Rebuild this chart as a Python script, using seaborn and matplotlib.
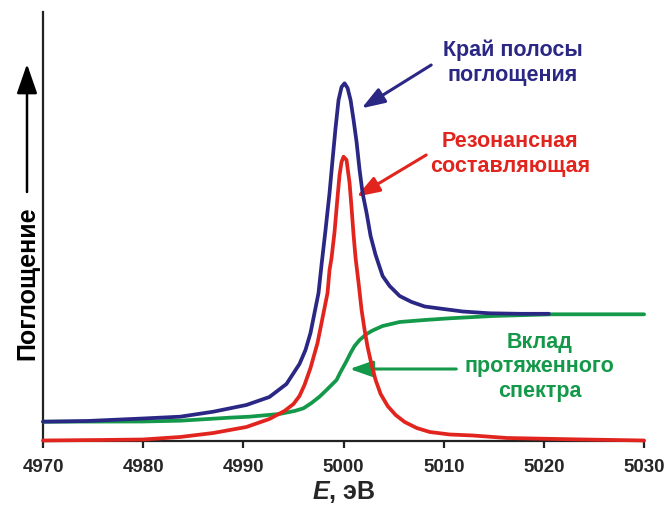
import numpy as np
import pandas as pd
import matplotlib
matplotlib.use('Agg')
import matplotlib.pyplot as plt
import seaborn as sns

#%% Данные (поглощение в условных единицах)

energy_red = [4970.0, 4975.7, 4980.0, 4983.7, 4987.0, 4990.3, 4992.6, 4994.1, 4995.0, 4995.6,
              4996.1, 4996.7, 4997.4, 4997.9, 4998.4, 4998.6, 4998.8, 4999.1, 4999.4, 4999.6,
              4999.8, 5000.0, 5000.3, 5000.4, 5000.6, 5000.8, 5001.0, 5001.2, 5001.5, 5001.8,
              5002.1, 5002.4, 5002.8, 5003.2, 5003.7, 5004.4, 5005.2, 5006.1, 5007.3, 5008.6,
              5010.6, 5012.9, 5016.3, 5022.8, 5030.0]
absorb_red = [0.5, 1, 1.5, 4, 8, 14, 22, 30, 37, 45,
              56, 73, 98, 123, 148, 171, 183, 209, 244, 266,
              279, 284.3, 281, 273, 258, 233, 206, 183, 158, 131,
              111, 94, 76, 61, 47, 35, 26, 19, 13, 9,
              6.5, 5.5, 3, 1.7, 0.5]

energy_blue = [4970.0, 4974.4, 4980.0, 4983.7, 4987.0, 4990.3, 4992.6, 4994.3, 4995.6, 4996.2,
               4996.7, 4997.1, 4997.5, 4997.8, 4998.2, 4998.6, 4998.9, 4999.2, 4999.5, 4999.8,
               5000.1, 5000.4, 5000.7, 5001.0, 5001.3, 5001.6, 5001.9, 5002.3, 5002.7, 5003.2,
               5003.9, 5004.6, 5005.6, 5006.8, 5008.1, 5009.6, 5011.9, 5014.6, 5017.6, 5020.5]
absorb_blue = [19.3, 20, 22.5, 24.3, 29.3, 36, 44, 57, 77, 91,
               108, 128, 148, 176, 211, 248, 281, 313, 341, 354,
               357.7, 353, 341, 321, 299, 271, 248, 228, 205, 186,
               165, 155, 145, 139, 134.5, 132.5, 129.5, 127.7, 127.2, 127.2]

energy_green = [4970.0, 4980.0, 4983.7, 4988.6, 4990.6, 4993.6, 4995.1, 4996.0, 4996.8, 4997.6,
                4998.3, 4999.3, 4999.7, 5000.3, 5000.7, 5001.1, 5001.6, 5002.3, 5002.9, 5003.9,
                5005.6, 5008.1, 5010.6, 5014.9, 5020.8, 5030.0]
absorb_green = [19.3, 19.5, 20.3, 23.3, 24.3, 27, 30, 32.7, 38, 44.3,
                51, 61, 69, 80, 88, 95, 101, 107, 110.5, 115,
                119, 121, 122.7, 125, 126.7, 126.7]

x_ticks = [4970, 4980, 4990, 5000, 5010, 5020, 5030]

c_blue = '#2b2784'
c_red = '#e1251e'
c_green = '#14994a'

#%% Оформление

sns.set_style('white')
plt.rcParams['font.family'] = ['Liberation Sans', 'DejaVu Sans']
plt.rcParams['font.weight'] = 'bold'
plt.rcParams['mathtext.fontset'] = 'custom'
plt.rcParams['mathtext.it'] = 'Liberation Sans:italic:bold'
plt.rcParams['mathtext.rm'] = 'Liberation Sans:bold'

fig = plt.figure(figsize=(6.64, 5.07), dpi=100)
ax = fig.add_axes([0.0648, 0.1302, 0.9052, 0.8461])

df_red = pd.DataFrame({'E': energy_red, 'A': absorb_red})
df_blue = pd.DataFrame({'E': energy_blue, 'A': absorb_blue})
df_green = pd.DataFrame({'E': energy_green, 'A': absorb_green})

lw = 2.7
sns.lineplot(data=df_green, x='E', y='A', color=c_green, lw=lw, ax=ax, estimator=None, sort=False, zorder=3)
sns.lineplot(data=df_blue, x='E', y='A', color=c_blue, lw=lw, ax=ax, estimator=None, sort=False, zorder=4)
sns.lineplot(data=df_red, x='E', y='A', color=c_red, lw=lw, ax=ax, estimator=None, sort=False, zorder=5)
for ln in ax.get_lines():
    ln.set_clip_on(False)
    ln.set_solid_capstyle('round')
    ln.set_solid_joinstyle('round')

ax.set_xlim(4970, 5030)
ax.set_ylim(0, 429)
ax.set_xticks(x_ticks)
ax.set_yticks([])
ax.tick_params(axis='x', direction='out', length=5, width=1.6, labelsize=13.5, pad=8,
               bottom=True, color='#222222')
for lab in ax.get_xticklabels():
    lab.set_fontweight('bold')

for s in ['top', 'right']:
    ax.spines[s].set_visible(False)
for s in ['left', 'bottom']:
    ax.spines[s].set_color('#222222')
    ax.spines[s].set_linewidth(1.6)

ax.set_xlabel(r'$E$, эВ', fontsize=18, fontweight='bold', labelpad=2)
ax.set_ylabel('')

#%% Подписи и стрелки

fs = 15.5
arrow_style = '-|>,head_length=1.0,head_width=0.35'

ax.text(5016.9, 378, 'Край полосы\nпоглощения', color=c_blue, fontsize=fs, fontweight='bold',
        ha='center', va='center', linespacing=1.25)
ax.annotate('', xy=(5001.8, 332.7), xytext=(5008.75, 376),
            arrowprops=dict(arrowstyle=arrow_style, lw=2.2, color=c_blue,
                            mutation_scale=14, shrinkA=0, shrinkB=0))

ax.text(5016.6, 287, 'Резонансная\nсоставляющая', color=c_red, fontsize=fs, fontweight='bold',
        ha='center', va='center', linespacing=1.25)
ax.annotate('', xy=(5001.3, 244.3), xytext=(5008.25, 286),
            arrowprops=dict(arrowstyle=arrow_style, lw=2.2, color=c_red,
                            mutation_scale=14, shrinkA=0, shrinkB=0))

ax.text(5019.55, 74, 'Вклад\nпротяженного\nспектра', color=c_green, fontsize=fs,
        fontweight='bold', ha='center', va='center', linespacing=1.2)
ax.annotate('', xy=(5000.6, 72), xytext=(5011.25, 72),
            arrowprops=dict(arrowstyle=arrow_style, lw=2.2, color=c_green,
                            mutation_scale=14, shrinkA=0, shrinkB=0))

# подпись оси Y со стрелкой
fig.text(27 / 664, 1 - 283 / 507, 'Поглощение', rotation=90, fontsize=18, fontweight='bold',
         ha='center', va='center', color='black')
fig.add_artist(matplotlib.patches.FancyArrowPatch(
    (27 / 664, 1 - 192 / 507), (27 / 664, 1 - 64 / 507), transform=fig.transFigure,
    arrowstyle='-|>,head_length=1.3,head_width=0.45', mutation_scale=14, lw=1.8,
    color='black', shrinkA=0, shrinkB=0))

fig.savefig('out.png', dpi=100)
